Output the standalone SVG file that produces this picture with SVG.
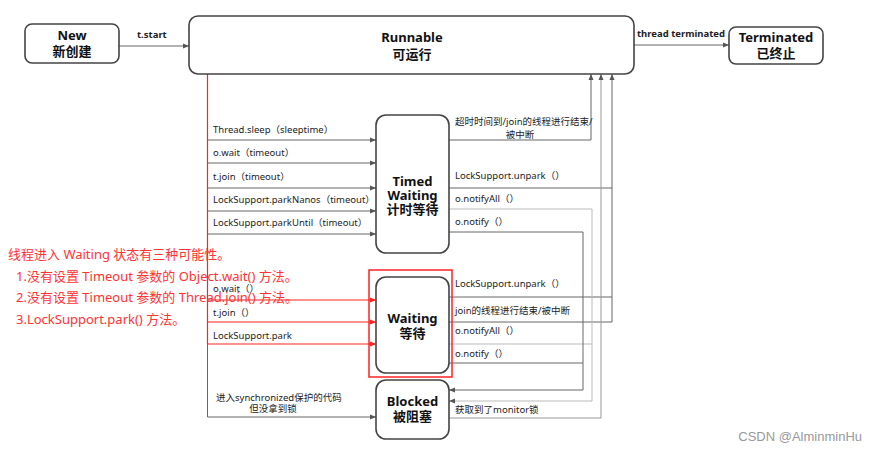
<svg xmlns="http://www.w3.org/2000/svg" width="877" height="453" viewBox="0 0 877 453">
<style>
.node{fill:#fff;stroke:#444;stroke-width:1.6}
.title{font-family:"Noto Sans","Noto Sans CJK SC",sans-serif;font-size:13px;font-weight:bold;fill:#111;text-anchor:middle}
.lbl{font-family:"Noto Sans","Noto Sans CJK SC",sans-serif;font-size:9.5px;fill:#222}
.edge{fill:none;stroke:#666;stroke-width:1}
.light{stroke:#bbb}
.mid{stroke:#999}
.red{fill:none;stroke:#f22;stroke-width:1.2}
.note{font-family:"Noto Sans","Noto Sans CJK SC",sans-serif;font-size:13px;fill:#ff3333}
</style>
<defs>
<marker id="ah" markerWidth="6" markerHeight="6" refX="6" refY="3" orient="auto" markerUnits="userSpaceOnUse"><path d="M0,0.5 L6,3 L0,5.5 z" fill="#555"/></marker>
<marker id="ahr" markerWidth="6" markerHeight="6" refX="6" refY="3" orient="auto" markerUnits="userSpaceOnUse"><path d="M0,0.5 L6,3 L0,5.5 z" fill="#f22"/></marker>
</defs>

<g id="connectors">
<path class="edge" d="M119,46 H189" marker-end="url(#ah)"/>
<path class="edge" d="M634,45 H729" marker-end="url(#ah)"/>
<path class="red" d="M207.5,74 V344"/>
<path class="edge" d="M207.5,344 V417"/>
<path class="edge" d="M207.5,140 H376" marker-end="url(#ah)"/>
<path class="edge" d="M207.5,163 H376" marker-end="url(#ah)"/>
<path class="edge" d="M207.5,188 H376" marker-end="url(#ah)"/>
<path class="edge" d="M207.5,211 H376" marker-end="url(#ah)"/>
<path class="edge" d="M207.5,234 H376" marker-end="url(#ah)"/>
<path class="red" d="M207.5,300 H376" marker-end="url(#ahr)"/>
<path class="red" d="M207.5,322 H376" marker-end="url(#ahr)"/>
<path class="red" d="M207.5,344 H376" marker-end="url(#ahr)"/>
<path class="edge" d="M207.5,417 H376" marker-end="url(#ah)"/>
<path class="edge" d="M449,140 H591 V74" marker-end="url(#ah)"/>
<path class="edge" d="M449,188 H612"/>
<path class="edge" d="M449,297 H612"/>
<path class="edge" d="M449,322 H612 V74" marker-end="url(#ah)"/>
<path class="edge light" d="M449,209 H592 V401 H449" marker-end="url(#ah)"/>
<path class="edge light" d="M449,344 H592"/>
<path class="edge" d="M449,232 H583 V390 H449" marker-end="url(#ah)"/>
<path class="edge" d="M449,363 H583"/>
<path class="edge mid" d="M449,418 H601 V74" marker-end="url(#ah)"/>
</g>

<g id="edge-labels">
<text class="lbl" x="137" y="38" font-weight="bold">t.start</text>
<text class="lbl" x="637" y="37" font-weight="bold">thread terminated</text>
<text class="lbl" x="213" y="133">Thread.sleep（sleeptime）</text>
<text class="lbl" x="213" y="156">o.wait（timeout）</text>
<text class="lbl" x="213" y="180">t.join（timeout）</text>
<text class="lbl" x="213" y="203">LockSupport.parkNanos（timeout）</text>
<text class="lbl" x="213" y="226">LockSupport.parkUntil（timeout）</text>
<text class="lbl" x="213" y="292">o.wait（）</text>
<text class="lbl" x="213" y="316">t.join（）</text>
<text class="lbl" x="213" y="339">LockSupport.park</text>
<text class="lbl" x="216" y="401">进入synchronized保护的代码</text>
<text class="lbl" x="273" y="412" text-anchor="middle">但没拿到锁</text>
<text class="lbl" x="455" y="125">超时时间到/join的线程进行结束/</text>
<text class="lbl" x="520" y="138" text-anchor="middle">被中断</text>
<text class="lbl" x="455" y="179">LockSupport.unpark（）</text>
<text class="lbl" x="455" y="202">o.notifyAll（）</text>
<text class="lbl" x="455" y="225">o.notify（）</text>
<text class="lbl" x="455" y="287">LockSupport.unpark（）</text>
<text class="lbl" x="455" y="314">join的线程进行结束/被中断</text>
<text class="lbl" x="455" y="334">o.notifyAll（）</text>
<text class="lbl" x="455" y="357">o.notify（）</text>
<text class="lbl" x="455" y="413">获取到了monitor锁</text>
</g>

<g id="new">
<rect class="node" x="25" y="24" width="94" height="39" rx="7"/>
<text class="title" x="72" y="40">New</text>
<text class="title" x="72" y="56">新创建</text>
</g>
<g id="runnable">
<rect class="node" x="189" y="16" width="445" height="58" rx="9"/>
<text class="title" x="412" y="42" font-size="14">Runnable</text>
<text class="title" x="412" y="59" font-size="14">可运行</text>
</g>
<g id="terminated">
<rect class="node" x="729" y="27" width="94" height="37" rx="7"/>
<text class="title" x="776" y="42">Terminated</text>
<text class="title" x="776" y="58">已终止</text>
</g>
<g id="timed-waiting">
<rect class="node" x="376" y="115" width="73" height="138" rx="10"/>
<text class="title" x="412.5" y="186" font-size="12.5">Timed</text>
<text class="title" x="412.5" y="200" font-size="12.5">Waiting</text>
<text class="title" x="412.5" y="214" font-size="12.5">计时等待</text>
</g>
<g id="waiting">
<rect class="node" x="376" y="277" width="73" height="96" rx="10"/>
<text class="title" x="412.5" y="323">Waiting</text>
<text class="title" x="412.5" y="338">等待</text>
</g>
<g id="blocked">
<rect class="node" x="376" y="380" width="73" height="59" rx="10"/>
<text class="title" x="412.5" y="406">Blocked</text>
<text class="title" x="412.5" y="421">被阻塞</text>
</g>

<g id="annotation">
<rect x="369" y="270" width="83" height="107" fill="none" stroke="#f22" stroke-width="1.5"/>
<text class="note" x="8" y="259">线程进入 Waiting 状态有三种可能性。</text>
<text class="note" x="16" y="281">1.没有设置 Timeout 参数的 Object.wait() 方法。</text>
<text class="note" x="16" y="302">2.没有设置 Timeout 参数的 Thread.join() 方法。</text>
<text class="note" x="16" y="324">3.LockSupport.park() 方法。</text>
</g>

<text x="862" y="441" text-anchor="end" font-family="'Liberation Sans',Arial,sans-serif" font-size="13" fill="#999">CSDN @AlminminHu</text>
</svg>
